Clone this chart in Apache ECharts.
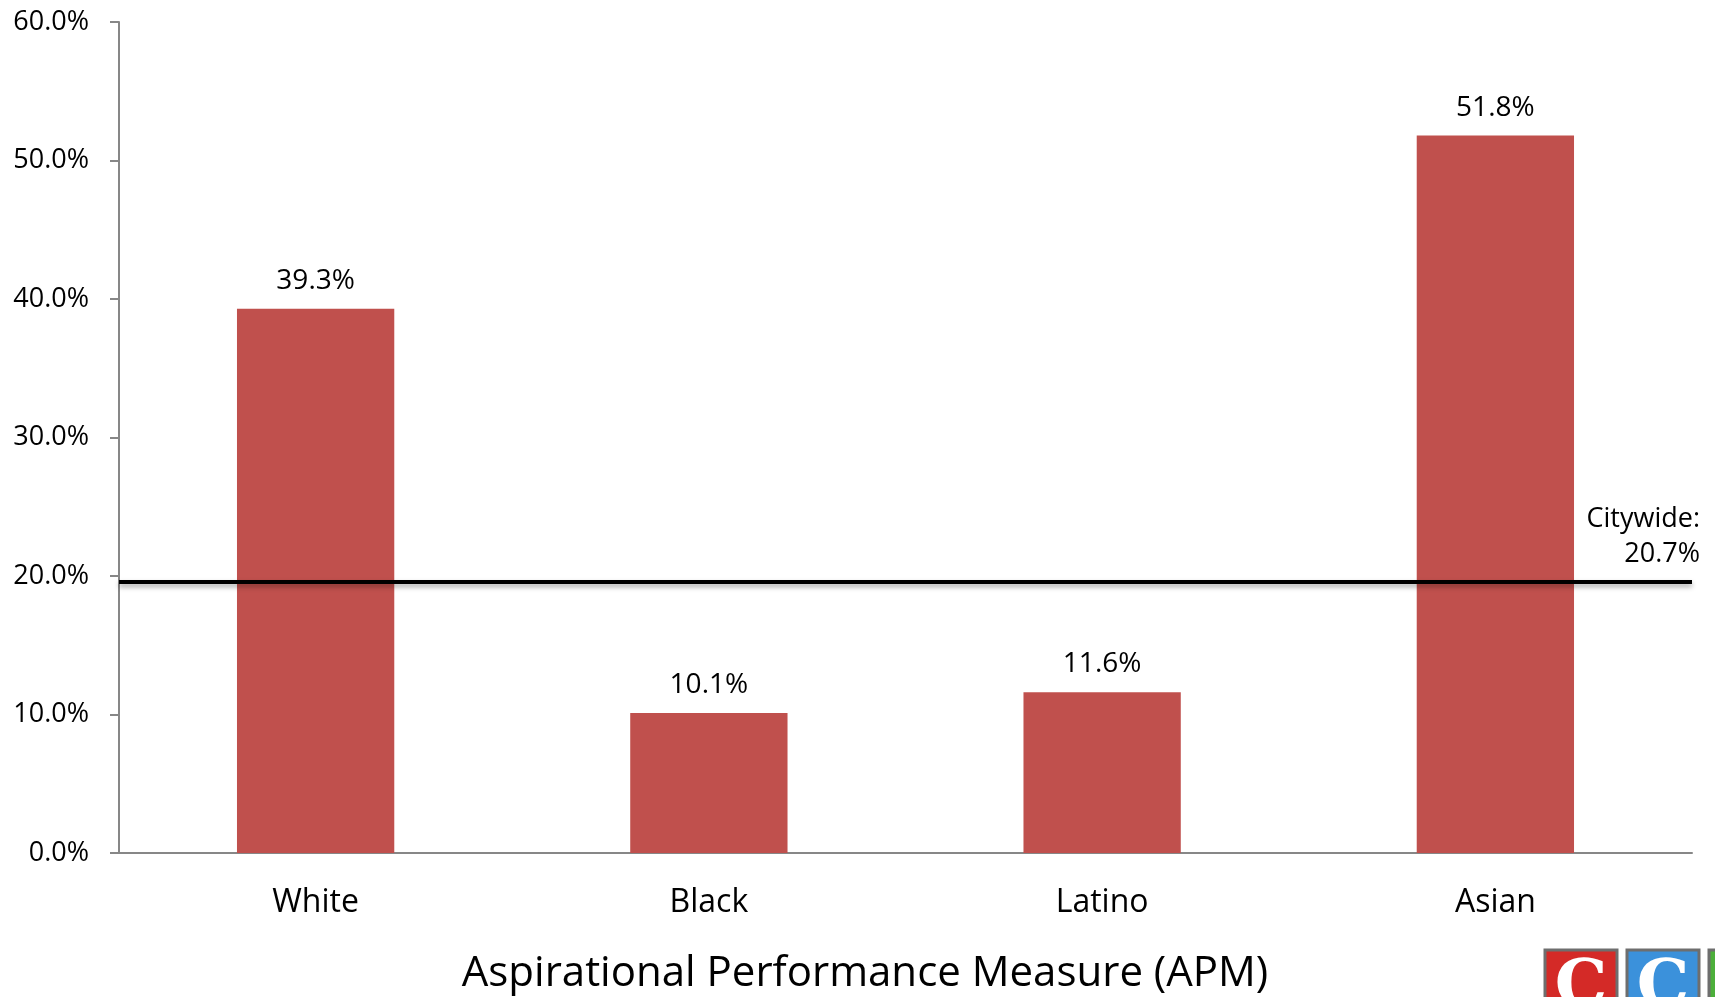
<!DOCTYPE html>
<html>
<head>
<meta charset="utf-8">
<title>APM</title>
<script type="text/javascript" src="https://cdn.jsdelivr.net/npm/echarts@6/dist/echarts.min.js"></script>
<style>
	html, body { margin: 0; padding: 0; background: #fff; }
	#container { width: 1715px; height: 997px; }
</style>
</head>
<body>
	<div id="container"></div>
	<script type="text/javascript">
	// values
	var groups = ['White', 'Black', 'Latino', 'Asian'];
	var apmValues = [39.3, 10.1, 11.6, 51.8];
	var citywideLine = [19.6];      // where the black rule sits
	var citywideLabel = ['20.7%'];  // what its label says
	var axisTitle = 'Aspirational Performance Measure (APM)';

	var dom = document.getElementById("container");
	var myChart = echarts.init(dom);
	var font = '"Open Sans", "Noto Sans", sans-serif';
	var axisGrey = '#878787';

	// little logo boxes, bottom right
	function logoBox(x, fill) {
		return {
			type: 'group',
			x: x, y: 950,
			children: [
				{ type: 'rect', shape: { x: 0, y: 0, width: 72, height: 60 },
					style: { fill: fill, stroke: '#6e6e6e', lineWidth: 3 } },
				{ type: 'text', x: 36, y: 6,
					style: { text: 'C', fill: '#fff', font: 'bold 66px "DejaVu Serif", "Liberation Serif", serif',
						align: 'center', verticalAlign: 'top' } }
			]
		};
	}

	option = {
		animation: false,
		grid: { left: 119, right: 23, top: 22, bottom: 144 },
		xAxis: {
			type: 'category',
			data: groups,
			axisLine: { lineStyle: { color: axisGrey, width: 2 } },
			axisTick: { length: 11, lineStyle: { color: axisGrey, width: 2 } },
			axisLabel: { margin: 34, fontSize: 32, color: '#000', fontFamily: font }
		},
		yAxis: {
			type: 'value',
			min: 0,
			max: 60,
			interval: 10,
			splitLine: { show: false },
			axisLine: { show: true, lineStyle: { color: axisGrey, width: 2 } },
			axisTick: { show: true, length: 9, lineStyle: { color: axisGrey, width: 2 } },
			axisLabel: {
				margin: 30, fontSize: 27, color: '#000', fontFamily: font,
				formatter: function (v) { return v.toFixed(1) + '%'; }
			}
		},
		series: [{
			type: 'bar',
			data: apmValues,
			barWidth: '40%',
			itemStyle: { color: '#C0504D' },
			label: {
				show: true, position: 'top', distance: 14,
				fontSize: 28, color: '#000', fontFamily: font,
				formatter: function (p) { return p.value.toFixed(1) + '%'; }
			},
			markLine: {
				silent: true,
				symbol: 'none',
				data: [{ yAxis: citywideLine[0] }],
				lineStyle: {
					type: 'solid', color: '#000', width: 4,
					shadowColor: 'rgba(0,0,0,0.35)', shadowBlur: 5, shadowOffsetY: 3
				},
				label: {
					position: 'insideEndTop',
					distance: [-8, 10],
					formatter: 'Citywide:\n' + citywideLabel[0],
					align: 'right',
					fontSize: 27, lineHeight: 35, color: '#000', fontFamily: font
				}
			}
		}],
		graphic: [
			{ type: 'text', x: 865, y: 974,
				style: { text: axisTitle, fill: '#000', font: '42px ' + font,
					align: 'center', verticalAlign: 'middle' } },
			logoBox(1545, '#d42a27'),
			logoBox(1627, '#3b91db'),
			logoBox(1709, '#4caf3a')
		]
	};
	myChart.setOption(option, true);
	</script>
</body>
</html>
